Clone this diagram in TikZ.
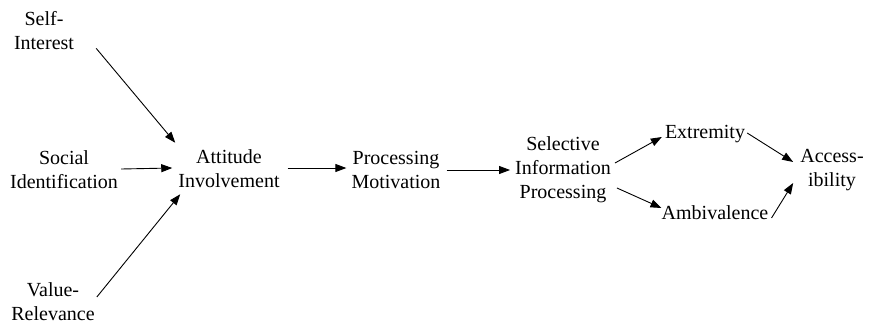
\documentclass[tikz,border=0pt]{standalone}
\usepackage{fontspec}
\setmainfont{Liberation Serif}
\usetikzlibrary{arrows.meta,calc}
\begin{document}
\begin{tikzpicture}[x=1pt,y=-1pt,
  lbl/.style={inner sep=0pt,align=center,font=\fontsize{20}{24}\selectfont},
  arr/.style={line width=0.9pt,-{Triangle[length=11pt,width=8pt]}}]
\useasboundingbox (0,0) rectangle (872,324);
\node[lbl] (si)  at (44,31)  {Self-\\Interest};
\node[lbl] (sid) at (64,170) {Social\\Identification};
\node[lbl] (vr)  at (53,302) {Value-\\Relevance};
\node[lbl] (ai)  at (229,169) {Attitude\\Involvement};
\node[lbl] (pm)  at (396,170) {Processing\\Motivation};
\node[lbl] (sip) at (563,170) {Selective\\Information\\Processing};
\node[lbl] (ex)  at (705,134) {Extremity};
\node[lbl] (am)  at (715,213) {Ambivalence};
\node[lbl] (acc) at (832,170) {Access-\\ibility};
\draw[arr] ($(si.south east)+(22,-2)$) -- ($(ai.north west)+(-3,-7)$);
\draw[arr] ($(sid.east)+(3,-1)$) -- ($(ai.west)+(-6,-1)$);
\draw[arr] ($(vr.east)+(2,-5)$) -- ($(ai.south west)+(2,6)$);
\draw[arr] ($(ai.east)+(8,-1)$) -- ($(pm.west)+(-5,-2)$);
\draw[arr] ($(pm.east)+(6,0)$) -- ($(sip.west)+(-5,0)$);
\draw[arr] ($(sip.east)+(4,-7)$) -- ($(ex.west)+(-3,3)$);
\draw[arr] ($(sip.east)+(6,18)$) -- ($(am.west)+(0,-5)$);
\draw[arr] ($(ex.east)+(2,-1)$) -- ($(acc.west)+(-7,-8)$);
\draw[arr] ($(am.east)+(3,5)$) -- ($(acc.west)+(-7,13)$);
\end{tikzpicture}
\end{document}
